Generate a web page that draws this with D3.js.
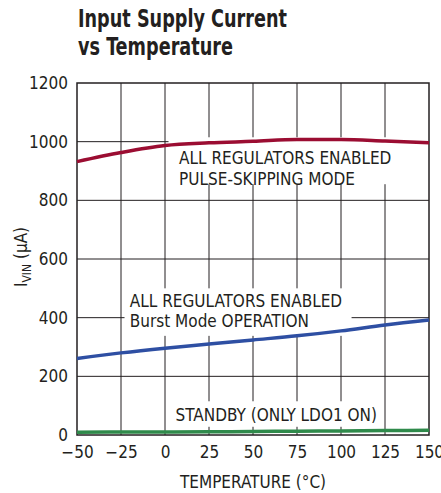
<!DOCTYPE html>
<html>
<head>
<meta charset="utf-8">
<script src="https://cdn.jsdelivr.net/npm/d3@7"></script>
<style>
  body { margin: 0; background: #fff; }
  text { font-family: "Liberation Sans Narrow", "DejaVu Sans Condensed", sans-serif; fill: #231f20; }
</style>
</head>
<body>
<svg id="chart" width="441" height="493"></svg>
<script>
// temperature points (°C) and currents (µA)
var temps = [-50, -25, 0, 25, 50, 75, 100, 125, 150];
var pulseSkip = [932, 963, 987, 996, 1001, 1007, 1007, 1002, 996];
var burstMode = [261, 280, 296, 310, 324, 338, 355, 375, 392];
var standby = [9, 10, 10, 11, 12, 13, 14, 15, 16];
var xTicks = [-50, -25, 0, 25, 50, 75, 100, 125, 150];
var yTicks = [0, 200, 400, 600, 800, 1000, 1200];

var svg = d3.select("#chart");
var margin = {left: 77, top: 83, right: 12, bottom: 58};
var w = 441 - margin.left - margin.right,
    h = 493 - margin.top - margin.bottom;

var x = d3.scaleLinear().domain([-50, 150]).range([0, w]);
var y = d3.scaleLinear().domain([0, 1200]).range([h, 0]);

// title (condensed bold, squeezed to the reference width)
svg.append("text").attr("x", 78).attr("y", 27)
  .style("font-size", "25px").style("font-weight", "bold")
  .attr("textLength", 209).attr("lengthAdjust", "spacingAndGlyphs")
  .text("Input Supply Current");
svg.append("text").attr("x", 78).attr("y", 55)
  .style("font-size", "25px").style("font-weight", "bold")
  .attr("textLength", 155).attr("lengthAdjust", "spacingAndGlyphs")
  .text("vs Temperature");

var g = svg.append("g")
  .attr("transform", "translate(" + [margin.left, margin.top] + ")");

// grid
g.append("g").selectAll("line").data(xTicks.slice(1, -1)).join("line")
  .attr("x1", d => x(d)).attr("x2", d => x(d))
  .attr("y1", 0).attr("y2", h)
  .attr("stroke", "#231f20").attr("stroke-width", 1);
g.append("g").selectAll("line").data(yTicks.slice(1, -1)).join("line")
  .attr("x1", 0).attr("x2", w)
  .attr("y1", d => y(d)).attr("y2", d => y(d))
  .attr("stroke", "#231f20").attr("stroke-width", 1);

// white boxes behind the labels cut the grid
function box(t0, t1, v0, v1) {
  g.append("rect")
    .attr("x", x(t0)).attr("y", y(v1))
    .attr("width", x(t1) - x(t0)).attr("height", y(v0) - y(v1))
    .attr("fill", "#fff");
}
box(2, 132, 855, 1015);
box(-23, 106, 338, 500);
box(2, 122, 28, 115);

// frame
g.append("rect").attr("width", w).attr("height", h)
  .attr("fill", "none").attr("stroke", "#231f20").attr("stroke-width", 1.5);

// curves
var line = d3.line().x((d, i) => x(temps[i])).y(d => y(d)).curve(d3.curveMonotoneX);
[[pulseSkip, "#9b0d32"], [burstMode, "#2e4fa3"], [standby, "#2f8a4b"]].forEach(function (s) {
  g.append("path").datum(s[0]).attr("d", line)
    .attr("fill", "none").attr("stroke", s[1]).attr("stroke-width", 3.5);
});

// labels on the plot
function label(lines, t, v) {
  var tx = g.append("text").attr("x", x(t)).attr("y", y(v)).style("font-size", "17px");
  lines.forEach(function (s, i) {
    tx.append("tspan").attr("x", x(t)).attr("dy", i ? 20.5 : 0).text(s);
  });
}
label(["ALL REGULATORS ENABLED", "PULSE-SKIPPING MODE"], 8, 923);
label(["ALL REGULATORS ENABLED", "Burst Mode OPERATION"], -20, 438);
label(["STANDBY (ONLY LDO1 ON)"], 6, 48);

// axes
var xAxis = g.append("g").attr("transform", "translate(0," + h + ")")
  .call(d3.axisBottom(x).tickValues(xTicks).tickSize(0).tickPadding(7)
    .tickFormat(d => d < 0 ? "\u2212" + Math.abs(d) : d));
var yAxis = g.append("g")
  .call(d3.axisLeft(y).tickValues(yTicks).tickSize(0).tickPadding(9)
    .tickFormat(d3.format("d")));
[xAxis, yAxis].forEach(function (a) {
  a.select(".domain").remove();
  a.selectAll("text").style("font-size", "17px").attr("fill", "#231f20");
});
xAxis.selectAll("text").attr("dy", "0.95em");

g.append("text").attr("x", w / 2 + 0).attr("y", h + 53)
  .attr("text-anchor", "middle").style("font-size", "17px")
  .text("TEMPERATURE (\u00B0C)");

var yl = svg.append("text")
  .attr("transform", "translate(27,257) rotate(-90)")
  .attr("text-anchor", "middle").style("font-size", "17px");
yl.append("tspan").text("I");
yl.append("tspan").attr("dy", 4).style("font-size", "12px").text("VIN");
yl.append("tspan").attr("dy", -4).text(" (\u00B5A)");
</script>
</body>
</html>
